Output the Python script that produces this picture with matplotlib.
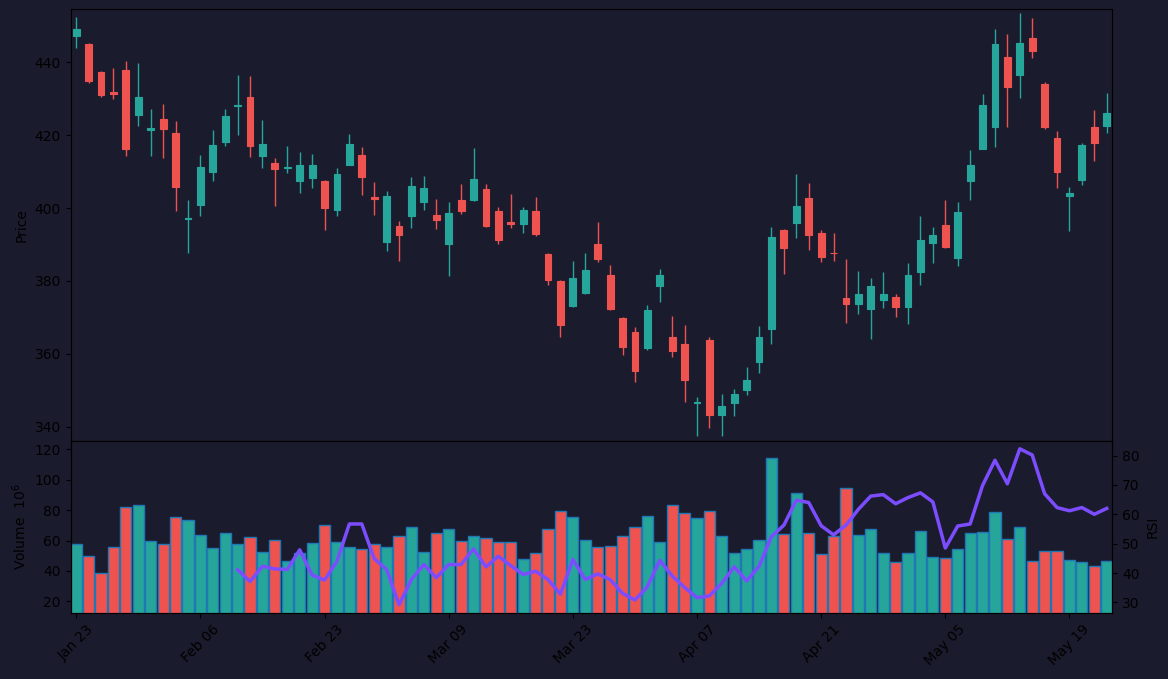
import matplotlib
matplotlib.use("Agg")
import matplotlib.pyplot as plt
import numpy as np

# ---- data ----
tick_labels = ['Jan 23', 'Feb 06', 'Feb 23', 'Mar 09', 'Mar 23', 'Apr 07', 'Apr 21', 'May 05', 'May 19']

opens = [447.2, 445.0, 437.4, 431.9, 437.9, 425.4, 421.3, 424.5, 420.6, 396.9,
         400.7, 409.8, 418.0, 427.9, 430.5, 414.2, 412.4, 411.1, 407.3, 408.1,
         407.5, 399.4, 411.9, 414.6, 403.1, 390.6, 395.2, 397.7, 401.6, 398.2,
         390.0, 402.3, 402.1, 405.3, 399.3, 396.3, 395.5, 399.3, 387.5, 380.1,
         373.1, 376.6, 390.2, 381.7, 369.9, 366.1, 361.6, 378.5, 364.5, 362.8,
         346.5, 363.9, 343.2, 346.5, 350.0, 357.7, 366.8, 394.1, 395.8, 402.8,
         393.2, 387.8, 375.4, 373.6, 372.2, 374.7, 375.7, 372.8, 382.4, 390.3,
         395.4, 386.2, 407.3, 416.3, 422.1, 441.5, 436.6, 446.7, 434.1, 419.3,
         403.2, 407.6, 422.3, 422.6]
highs = [452.3, 445.2, 437.6, 438.4, 440.3, 439.7, 427.1, 428.5, 423.8, 402.2,
         414.5, 421.4, 427.1, 436.4, 436.2, 424.1, 413.7, 417.0, 415.3, 414.8,
         407.8, 411.0, 420.3, 416.7, 407.1, 404.7, 396.5, 408.5, 408.8, 402.5,
         401.6, 406.6, 416.4, 406.6, 400.4, 403.8, 400.4, 403.0, 387.6, 380.3,
         385.5, 387.8, 396.2, 384.4, 370.0, 367.4, 373.4, 383.3, 370.4, 367.9,
         348.1, 364.7, 349.1, 350.5, 356.4, 367.7, 394.9, 394.3, 409.3, 406.9,
         394.0, 393.2, 386.0, 382.7, 380.7, 382.5, 376.4, 384.9, 397.8, 394.8,
         402.2, 401.6, 415.9, 431.2, 449.0, 447.7, 453.4, 452.1, 434.5, 421.1,
         405.8, 417.8, 426.8, 431.5]
lows = [444.0, 434.2, 430.5, 430.0, 414.4, 422.6, 414.4, 413.6, 399.1, 387.6,
        397.7, 407.3, 416.9, 420.0, 413.9, 410.9, 400.5, 409.5, 404.1, 405.5,
        393.9, 397.8, 411.7, 403.7, 398.0, 388.1, 385.4, 394.5, 399.4, 394.2,
        381.3, 398.3, 402.0, 394.7, 390.1, 394.5, 393.1, 392.2, 378.8, 364.6,
        372.8, 376.3, 385.2, 372.0, 359.6, 352.3, 361.1, 374.2, 359.2, 346.8,
        337.4, 339.6, 337.4, 342.9, 348.7, 354.7, 362.6, 381.8, 391.7, 388.4,
        385.2, 385.4, 368.4, 371.0, 364.1, 372.6, 370.1, 368.2, 378.9, 384.9,
        388.9, 384.1, 402.2, 416.2, 416.7, 422.2, 430.1, 441.1, 421.8, 405.5,
        393.7, 406.3, 412.9, 420.5]
closes = [449.1, 434.9, 430.9, 431.4, 416.3, 430.5, 422.0, 421.8, 405.9, 397.4,
          411.3, 417.4, 425.3, 428.3, 416.9, 417.6, 410.6, 411.3, 411.9, 411.9,
          399.9, 409.4, 417.6, 408.4, 402.4, 403.4, 392.5, 406.1, 405.6, 396.6,
          398.7, 399.1, 408.0, 395.0, 391.1, 395.5, 399.5, 392.8, 380.2, 367.9,
          380.9, 383.1, 385.9, 372.2, 361.8, 355.3, 371.9, 381.5, 360.7, 352.8,
          346.9, 343.2, 345.8, 349.1, 352.7, 364.5, 392.1, 389.0, 400.6, 392.5,
          386.5, 387.6, 373.6, 376.5, 378.7, 376.3, 372.8, 381.7, 391.1, 392.7,
          389.2, 399.0, 411.9, 428.3, 445.0, 433.3, 445.3, 443.2, 422.1, 410.0,
          404.2, 417.4, 417.7, 426.1]
volumes = [57.5, 49.6, 38.4, 55.5, 81.8, 83.1, 59.5, 57.5, 75.2, 73.3,
           63.4, 54.9, 64.7, 57.5, 62.1, 52.2, 60.1, 46.3, 51.6, 58.1,
           70.0, 58.8, 55.5, 54.2, 57.5, 55.5, 62.7, 68.7, 52.2, 64.7,
           67.4, 59.5, 62.7, 61.4, 58.8, 58.8, 47.6, 51.6, 67.4, 79.2,
           75.2, 60.1, 55.5, 56.2, 62.7, 68.7, 75.9, 58.8, 83.1, 77.9,
           74.6, 79.2, 62.7, 51.6, 54.2, 60.1, 114.1, 64.1, 91.0, 64.7,
           50.9, 62.7, 94.3, 63.4, 67.4, 51.6, 45.6, 51.6, 66.0, 48.9,
           48.3, 54.2, 64.7, 65.4, 78.5, 60.8, 68.7, 46.3, 52.9, 52.9,
           47.0, 45.6, 43.0, 46.3]
rsi_start = 13
rsi = [41.1, 37.1, 42.3, 41.4, 41.2, 47.9, 39.3, 37.6, 44.0, 56.7,
       56.7, 44.9, 41.2, 29.2, 37.8, 42.9, 38.4, 42.9, 42.9, 48.2,
       42.1, 45.7, 42.5, 39.5, 40.6, 37.8, 32.8, 44.6, 37.8, 39.7,
       37.8, 33.1, 30.8, 35.3, 44.3, 39.0, 35.1, 31.6, 32.2, 36.5,
       42.1, 37.3, 42.3, 52.4, 56.3, 64.8, 64.0, 56.1, 53.0, 56.3,
       61.7, 66.2, 66.7, 63.6, 65.7, 67.3, 64.2, 48.5, 56.0, 56.7,
       69.8, 78.4, 70.4, 82.3, 80.2, 67.0, 62.3, 61.2, 62.3, 60.0,
       62.0]

# ---- style ----
BG = '#1b1b2e'
UP = '#26a69a'
DOWN = '#ef5350'
RSI_C = '#7c4dff'

o = np.array(opens); h = np.array(highs); l = np.array(lows); c = np.array(closes)
v = np.array(volumes)
x = np.arange(len(o))
up = c >= o
cols = np.where(up, UP, DOWN)

fig = plt.figure(figsize=(11.68, 6.79), dpi=100, facecolor=BG)
gs = fig.add_gridspec(2, 1, height_ratios=[431.7, 171.5], hspace=0,
                      left=0.0605, right=0.9523, top=0.9863, bottom=0.0979)
ax = fig.add_subplot(gs[0])
axv = fig.add_subplot(gs[1], sharex=ax)
for a in (ax, axv):
    a.set_facecolor(BG)

# candles
ax.vlines(x, l, h, colors=cols, linewidth=1.0)
body_bottom = np.minimum(o, c)
body_h = np.maximum(np.abs(c - o), 0.15)
ax.bar(x, body_h, bottom=body_bottom, width=0.55, color=cols, edgecolor=cols, linewidth=0.8)
ax.set_ylim(336.1, 454.5)
ax.set_ylabel('Price')
plt.setp(ax.get_xticklabels(), visible=False)
ax.tick_params(axis='x', length=0)

# volume
axv.bar(x, v, width=0.9, color=cols, edgecolor='#1f77b4', linewidth=1.0)
axv.set_ylim(12.6, 125.5)
axv.set_ylabel('Volume  $10^6$')

# RSI
axr = axv.twinx()
axr.plot(np.arange(rsi_start, rsi_start + len(rsi)), rsi, color=RSI_C, linewidth=2.5)
axr.set_ylabel('RSI')

axv.set_xlim(-0.45, len(o) - 0.55)
axv.set_xticks(np.arange(0, len(o), 10))
axv.set_xticklabels(tick_labels, rotation=45)

fig.savefig('out.png', dpi=100, facecolor=BG)
